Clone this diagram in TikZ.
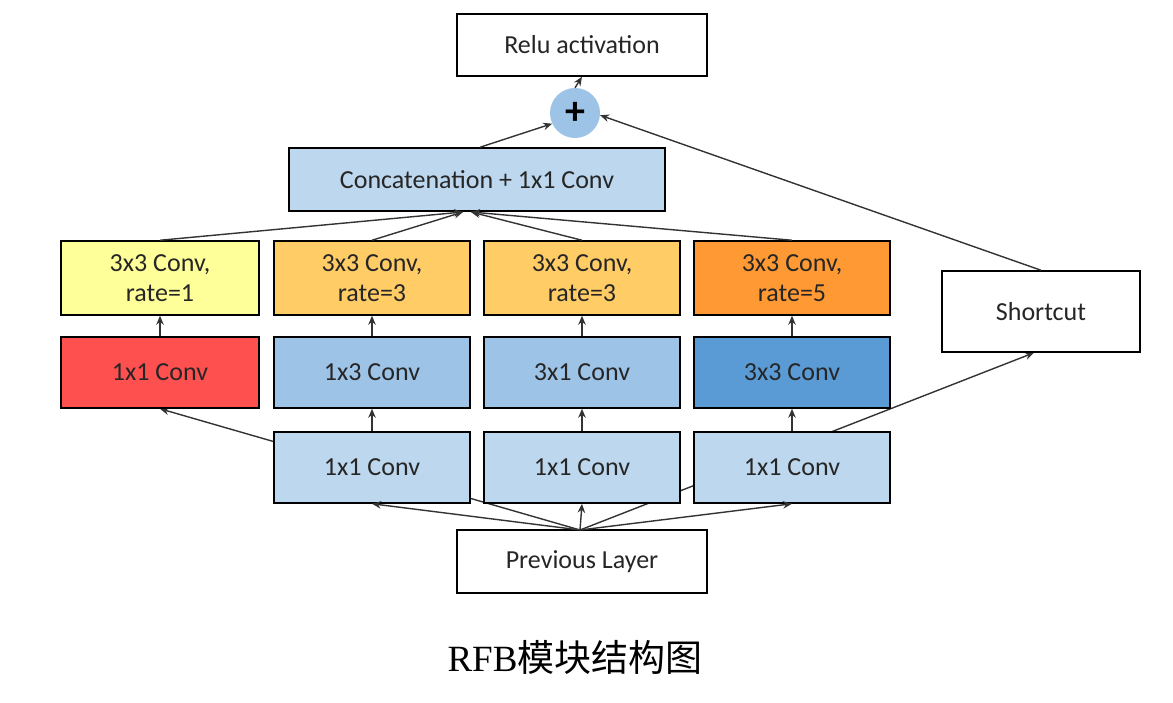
\documentclass[tikz,border=0pt]{standalone}
\usepackage{fontspec}
\setmainfont{Liberation Serif}
\newfontfamily\boxfont{Carlito}
\newfontfamily\cjk{Noto Sans CJK SC}
\usetikzlibrary{arrows.meta}
\pgfdeclarelayer{bg}
\pgfsetlayers{bg,main}
\definecolor{lblue}{HTML}{BDD7EE}
\definecolor{mblue}{HTML}{9DC3E6}
\definecolor{dblue}{HTML}{5B9BD5}
\definecolor{cyellow}{HTML}{FFFF99}
\definecolor{corange}{HTML}{FFCC66}
\definecolor{dorange}{HTML}{FF9933}
\definecolor{cred}{HTML}{FF5050}
\begin{document}
\begin{tikzpicture}[x=1pt,y=-1pt,
  blk/.style={draw=black,line width=1.5pt,font=\boxfont\fontsize{26}{30}\selectfont,align=center,inner sep=0pt,text=black!85},
  wide/.style={minimum width=250pt,minimum height=62pt},
  col/.style={minimum width=196pt},
  conn/.style={line width=1.4pt,draw=black!80,-{Stealth[length=9pt,width=7.5pt]}},
  plain/.style={line width=1.4pt,draw=black!80}]
\useasboundingbox (0,0) rectangle (1173,702);
\node[blk,wide,fill=white] (relu) at (582,45) {Relu activation};
\node[circle,fill=mblue,minimum size=50pt,inner sep=0pt,font=\boxfont\fontsize{40}{40}\selectfont\bfseries] (plus) at (575,113) {+};
\node[blk,fill=lblue,minimum width=376pt,minimum height=63pt] (concat) at (477,179.5) {Concatenation + 1x1 Conv};
\node[blk,fill=cyellow,col,minimum width=198pt,minimum height=74pt] (a1) at (160,278) {3x3 Conv,\\rate=1};
\node[blk,fill=corange,col,minimum height=74pt] (b1) at (372,278) {3x3 Conv,\\rate=3};
\node[blk,fill=corange,col,minimum height=74pt] (c1) at (582,278) {3x3 Conv,\\rate=3};
\node[blk,fill=dorange,col,minimum height=74pt] (d1) at (792,278) {3x3 Conv,\\rate=5};
\node[blk,fill=cred,col,minimum width=198pt,minimum height=71pt] (a2) at (160,372.5) {1x1 Conv};
\node[blk,fill=mblue,col,minimum height=71pt] (b2) at (372,372.5) {1x3 Conv};
\node[blk,fill=mblue,col,minimum height=71pt] (c2) at (582,372.5) {3x1 Conv};
\node[blk,fill=dblue,col,minimum height=71pt] (d2) at (792,372.5) {3x3 Conv};
\node[blk,fill=lblue,col,minimum height=71pt] (b3) at (372,467.5) {1x1 Conv};
\node[blk,fill=lblue,col,minimum height=71pt] (c3) at (582,467.5) {1x1 Conv};
\node[blk,fill=lblue,col,minimum height=71pt] (d3) at (792,467.5) {1x1 Conv};
\node[blk,fill=white,minimum width=198pt,minimum height=81pt] (short) at (1041,311.5) {Shortcut};
\node[blk,fill=white,wide,minimum height=63pt] (prev) at (582,561.5) {Previous Layer};
\node[font=\fontsize{37}{40}\selectfont] (cap) at (575,657) {RFB{\cjk 模块结构图}};
\coordinate (src) at (580,530);
\coordinate (cl) at (463,212);
\coordinate (cr) at (471,212);
\begin{pgfonlayer}{bg}
\draw[conn] (src) -- (a2.south);
\draw[conn] (src) -- ([xshift=-7pt]short.south);
\end{pgfonlayer}
\draw[conn] (src) -- (b3.south);
\draw[conn] (src) -- (c3.south);
\draw[conn] (src) -- (d3.south);
\draw[conn] (b3.north) -- (b2.south);
\draw[conn] (c3.north) -- (c2.south);
\draw[conn] (d3.north) -- (d2.south);
\draw[conn] (a2.north) -- (a1.south);
\draw[conn] (b2.north) -- (b1.south);
\draw[conn] (c2.north) -- (c1.south);
\draw[conn] (d2.north) -- (d1.south);
\draw[conn] (a1.north) -- (cl);
\draw[conn] (b1.north) -- (cl);
\draw[conn] (c1.north) -- (cr);
\draw[conn] (d1.north) -- (cr);
\draw[conn] ([xshift=3pt]concat.north) -- (plus.205);
\draw[conn] (short.north) -- (plus.-5);
\draw[conn] (plus.north) -- (relu.south);
\end{tikzpicture}
\end{document}
